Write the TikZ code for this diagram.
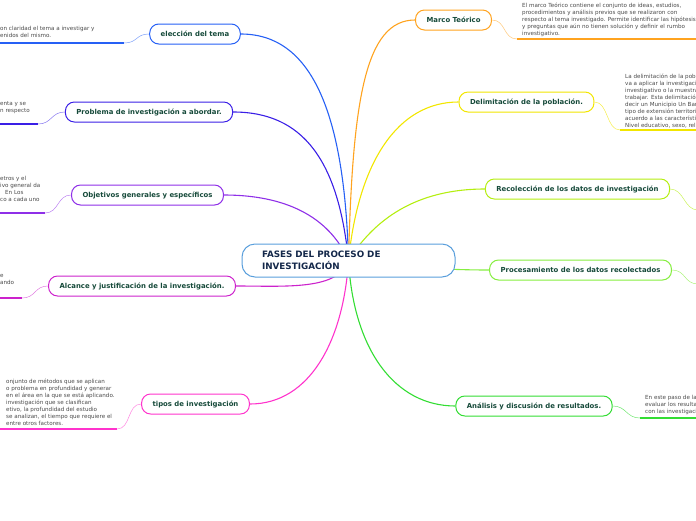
\documentclass[tikz,border=0pt]{standalone}
\usepackage{fontspec}
\setmainfont{DejaVu Sans}
\usetikzlibrary{backgrounds}
\definecolor{rootline}{HTML}{5A9FDC}
\definecolor{rootink}{HTML}{14284A}
\definecolor{label}{HTML}{164A3A}
\definecolor{notegray}{HTML}{4A4A4A}
\definecolor{tema}{HTML}{2660F5}
\definecolor{problema}{HTML}{3A1FE6}
\definecolor{objetivo}{HTML}{8F2FE8}
\definecolor{alcance}{HTML}{CC22CC}
\definecolor{tipos}{HTML}{FF33CC}
\definecolor{marco}{HTML}{FFA31F}
\definecolor{delim}{HTML}{F2E600}
\definecolor{recol}{HTML}{B4EE10}
\definecolor{proces}{HTML}{86EE40}
\definecolor{analisis}{HTML}{33DD33}
\tikzset{
  root/.style={draw=rootline,line width=1pt,rounded corners=13pt,fill=white,
    minimum width=213pt,minimum height=33pt,text width=173pt,align=left,
    font=\bfseries\fontsize{8.8}{12}\selectfont,text=rootink},
  topic/.style={draw,line width=1pt,rounded corners=9pt,fill=white,minimum height=20pt,
    inner xsep=11pt,font=\bfseries\fontsize{6.9}{8}\selectfont,text=label},
  branch/.style={line width=1.1pt},
  leaf/.style={line width=0.5pt},
  uline/.style={line width=1.5pt},
  note/.style={align=left,inner sep=0pt,font=\fontsize{5.6}{7}\selectfont,text=notegray}
}
\begin{document}
\begin{tikzpicture}[x=1pt,y=-1pt]
 \useasboundingbox (0,0) rectangle (696,520);
 \clip (0,0) rectangle (696,520);
 % central node
 \node[root] (fases) at (348.5,260.5) {FASES DEL PROCESO DE\\INVESTIGACIÓN};
 % left branches
 \node[topic,draw=tema] (eleccion) at (195,34) {elección del tema};
 \node[topic,draw=problema] (problema) at (149,112) {Problema de investigación a abordar.};
 \node[topic,draw=objetivo] (objetivos) at (147.5,195) {Objetivos generales y específicos};
 \node[topic,draw=alcance] (alcance) at (142,286) {Alcance y justificación de la investigación.};
 \node[topic,draw=tipos] (tipos) at (195.5,404) {tipos de investigación};
 % right branches
 \node[topic,draw=marco] (marco) at (453.5,20) {Marco Teórico};
 \node[topic,draw=delim] (delim) at (526.5,102) {Delimitación de la población.};
 \node[topic,draw=recol] (recol) at (577.5,189) {Recolección de los datos de investigación};
 \node[topic,draw=proces] (proces) at (580.5,270) {Procesamiento de los datos recolectados};
 \node[topic,draw=analisis] (analisis) at (534,406) {Análisis y discusión de resultados.};
 % notes
 \node[note,anchor=north west] (ntema) at (0,26) {on claridad el tema a investigar y\\enidos del mismo.};
 \node[note,anchor=north west] (nproblema) at (0,101) {enta y se\\n respecto};
 \node[note,anchor=north west] (nobjetivo) at (0,176.5) {etros y el\\ivo general da\\\hspace*{5pt}En Los\\co a cada uno};
 \node[note,anchor=north west] (nalcance) at (0,274) {e\\ando};
 \node[note,anchor=north west] (ntipos) at (6,379) {onjunto de métodos que se aplican\\o problema en profundidad y generar\\en el área en la que se está aplicando.\\investigación que se clasifican\\etivo, la profundidad del estudio\\se analizan, el tiempo que requiere el\\entre otros factores.};
 \node[note,anchor=north west] (nmarco) at (522,3) {El marco Teórico contiene el conjunto de ideas, estudios,\\procedimientos y análisis previos que se realizaron con\\respecto al tema investigado. Permite identificar las hipótesis\\y preguntas que aún no tienen solución y definir el rumbo\\investigativo.};
 \node[note,anchor=north west] (ndelim) at (625,74) {La delimitación de la pobl\\va a aplicar la investigaci\\investigativo o la muestra\\trabajar. Esta delimitación\\decir un Municipio Un Bar\\tipo de extensión territori\\acuerdo a las característi\\Nivel educativo, sexo, reli};
 \node[note,anchor=north west] (nanalisis) at (645,395) {En este paso de la\\evaluar los resulta\\con las investigacio};
 % underline ends
 \coordinate (utema) at (124,43);       \coordinate (utema') at (0,43);
 \coordinate (uproblema) at (38,124);   \coordinate (uproblema') at (0,124);
 \coordinate (uobjetivo) at (45,213);   \coordinate (uobjetivo') at (0,213);
 \coordinate (ualcance) at (22,298);    \coordinate (ualcance') at (0,298);
 \coordinate (utipos) at (117,429);     \coordinate (utipos') at (0,429);
 \coordinate (umarco) at (517,39);      \coordinate (umarco') at (696,39);
 \coordinate (udelim) at (620,130);     \coordinate (udelim') at (696,130);
 \coordinate (urecol) at (698,210);
 \coordinate (uproces) at (698,284);
 \coordinate (uanalisis) at (640,418);  \coordinate (uanalisis') at (696,418);
 % branches from the centre
 \begin{pgfonlayer}{background}
  \draw[branch,tema] (fases.center) .. controls +(-4,-150) and +(70,0) .. (eleccion.east);
  \draw[branch,problema] (fases.center) .. controls +(-10,-100) and +(70,0) .. (problema.east);
  \draw[branch,objetivo] (fases.center) .. controls +(-20,-45) and +(60,0) .. (objetivos.east);
  \draw[branch,alcance] (fases.center) .. controls +(-10,30) and +(50,0) .. (alcance.east);
  \draw[branch,tipos] (fases.center) .. controls +(-5,80) and +(60,0) .. (tipos.east);
  \draw[branch,marco] (fases.center) .. controls +(4,-160) and +(-50,0) .. (marco.west);
  \draw[branch,delim] (fases.center) .. controls +(10,-100) and +(-60,0) .. (delim.west);
  \draw[branch,recol] (fases.center) .. controls +(25,-40) and +(-70,0) .. (recol.west);
  \draw[branch,proces] (fases.center) .. controls +(60,8) and +(-30,0) .. (proces.west);
  \draw[branch,analisis] (fases.center) .. controls +(5,90) and +(-60,0) .. (analisis.west);
 \end{pgfonlayer}
 % leaves
 \draw[leaf,tema!60] (eleccion.west) .. controls +(-14,0) and +(14,0) .. (utema);
 \draw[uline,tema] (utema) -- (utema');
 \draw[leaf,problema!60] (problema.west) .. controls +(-14,0) and +(14,0) .. (uproblema);
 \draw[uline,problema] (uproblema) -- (uproblema');
 \draw[leaf,objetivo!60] (objetivos.west) .. controls +(-14,0) and +(14,0) .. (uobjetivo);
 \draw[uline,objetivo] (uobjetivo) -- (uobjetivo');
 \draw[leaf,alcance!60] (alcance.west) .. controls +(-14,0) and +(14,0) .. (ualcance);
 \draw[uline,alcance] (ualcance) -- (ualcance');
 \draw[leaf,tipos!60] (tipos.west) .. controls +(-14,0) and +(14,0) .. (utipos);
 \draw[uline,tipos] (utipos) -- (utipos');
 \draw[leaf,marco!60] (marco.east) .. controls +(14,0) and +(-14,0) .. (umarco);
 \draw[uline,marco] (umarco) -- (umarco');
 \draw[leaf,delim!70] (delim.east) .. controls +(14,0) and +(-14,0) .. (udelim);
 \draw[uline,delim] (udelim) -- (udelim');
 \draw[leaf,recol!70] (recol.east) .. controls +(14,0) and +(-14,0) .. (urecol);
 \draw[leaf,proces!70] (proces.east) .. controls +(14,0) and +(-14,0) .. (uproces);
 \draw[leaf,analisis!70] (analisis.east) .. controls +(14,0) and +(-14,0) .. (uanalisis);
 \draw[uline,analisis] (uanalisis) -- (uanalisis');
\end{tikzpicture}
\end{document}
